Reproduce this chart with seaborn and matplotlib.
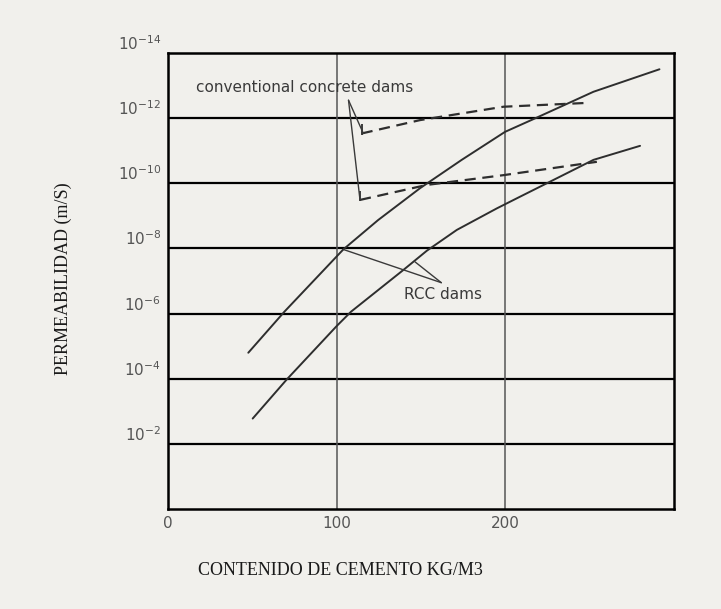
#!/usr/bin/env python3
"""Permeability vs cement content (RCC vs conventional concrete dams)."""

import matplotlib
matplotlib.use("Agg")
import matplotlib.pyplot as plt
import seaborn as sns


# cement content (kg/m3) and log10 permeability
rcc_upper_x = [47.6, 69.0, 103.9, 124.5, 149.4, 174.1, 199.8, 216.6, 252.2, 291.3]
rcc_upper_exp = [-4.80, -6.06, -7.97, -8.87, -9.85, -10.72, -11.58, -11.97, -12.81, -13.50]

rcc_lower_x = [50.2, 70.4, 100.0, 108.5, 139.5, 153.4, 171.2, 194.9, 208.7, 224.5, 252.2, 279.8]
rcc_lower_exp = [-2.78, -3.98, -5.62, -6.06, -7.34, -7.93, -8.57, -9.23, -9.59, -10.0, -10.72, -11.15]

conv_upper_x = [114.8, 149.4, 198.8, 249.2]
conv_upper_exp = [-11.53, -11.94, -12.35, -12.47]

conv_lower_x = [113.8, 153.4, 198.8, 254.2]
conv_lower_exp = [-9.49, -9.95, -10.25, -10.66]

y_tick_exps = [-14, -12, -10, -8, -6, -4, -2]
x_ticks = [0, 100, 200]

PAPER = "#f1f0ec"
INK = "#2e2e2e"


def to_perm(exps):
    return [10.0 ** e for e in exps]


def main() -> None:
    sns.set_theme(style="white")
    plt.rcParams["font.family"] = ["DejaVu Sans"]

    fig = plt.figure(figsize=(7.21, 6.09), dpi=100, facecolor=PAPER)
    ax = fig.add_axes([0.233, 0.164, 0.702, 0.749])
    ax.set_facecolor(PAPER)

    for xs, exps in [(rcc_upper_x, rcc_upper_exp), (rcc_lower_x, rcc_lower_exp)]:
        sns.lineplot(x=xs, y=to_perm(exps), ax=ax, sort=False, color=INK, lw=1.4)
    for xs, exps in [(conv_upper_x, conv_upper_exp), (conv_lower_x, conv_lower_exp)]:
        sns.lineplot(x=xs, y=to_perm(exps), ax=ax, sort=False, color=INK, lw=1.6,
                     linestyle=(0, (5, 3)))
        # little bracket at the start of each dashed line
        ax.vlines(xs[0], 10.0 ** (exps[0] - 0.28), 10.0 ** (exps[0] + 0.04),
                  color=INK, lw=1.3)

    ax.set_yscale("log")
    ax.set_xlim(0, 300)
    ax.set_ylim(1, 1e-14)

    # grid: thick horizontal lines, thin vertical ones
    for e in y_tick_exps[1:]:
        ax.axhline(10.0 ** e, color="black", lw=1.6, zorder=1)
    for xv in x_ticks[1:]:
        ax.axvline(xv, color="#555555", lw=1.1, zorder=1)

    for side in ax.spines.values():
        side.set_color("black")
        side.set_linewidth(1.8)

    ax.set_xticks(x_ticks, [str(v) for v in x_ticks], color="#555555", fontsize=11)
    ax.set_yticks([10.0 ** e for e in y_tick_exps],
                  [f"$10^{{{e}}}$" for e in y_tick_exps],
                  color="#555555", fontsize=11, va="bottom")
    ax.yaxis.set_minor_locator(matplotlib.ticker.NullLocator())
    ax.tick_params(length=0, pad=5)

    serif = ["Liberation Serif", "DejaVu Serif"]
    ax.set_xlabel("CONTENIDO DE CEMENTO KG/M3", family=serif, fontsize=13,
                  color="#1a1a1a")
    ax.xaxis.set_label_coords(0.34, -0.116)
    ax.set_ylabel("PERMEABILIDAD (m/S)", family=serif, fontsize=13,
                  color="#1a1a1a")
    ax.yaxis.set_label_coords(-0.19, 0.505)

    # annotations with leader lines
    lead = dict(arrowstyle="-", color="#3a3a3a", lw=1.0, shrinkA=0, shrinkB=0)
    ax.text(81, 10.0 ** -12.95, "conventional concrete dams", ha="center",
            va="center", fontsize=11, color="#3a3a3a")
    ax.annotate("", xy=(conv_upper_x[0] + 1, 10.0 ** conv_upper_exp[0]),
                xytext=(107, 10.0 ** -12.55), arrowprops=lead)
    ax.annotate("", xy=(conv_lower_x[0], 10.0 ** conv_lower_exp[0]),
                xytext=(107, 10.0 ** -12.55), arrowprops=lead)

    ax.text(163, 10.0 ** -6.6, "RCC dams", ha="center", va="center",
            fontsize=11, color="#3a3a3a")
    ax.annotate("", xy=(rcc_upper_x[2], 10.0 ** rcc_upper_exp[2]),
                xytext=(162, 10.0 ** -6.95), arrowprops=lead)
    ax.annotate("", xy=(146.4, 10.0 ** -7.59),
                xytext=(162, 10.0 ** -6.95), arrowprops=lead)

    fig.savefig("out.png", dpi=100, facecolor=PAPER)
    plt.close(fig)


if __name__ == "__main__":
    main()
